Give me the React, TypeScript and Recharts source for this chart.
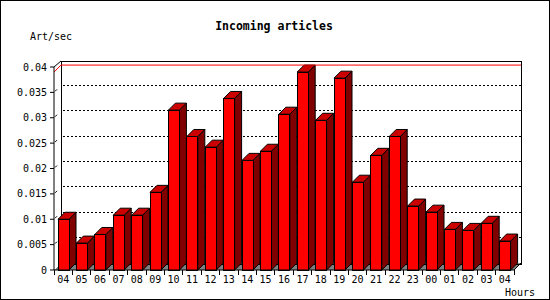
import React from 'react';
import { BarChart, Bar, XAxis, YAxis, CartesianGrid, ReferenceArea, ReferenceLine } from 'recharts';

const hours = ['04', '05', '06', '07', '08', '09', '10', '11', '12', '13', '14', '15', '16', '17', '18', '19', '20', '21', '22', '23', '00', '01', '02', '03', '04'];
const rates = [0.0100, 0.0053, 0.0070, 0.0108, 0.0108, 0.0153, 0.0315, 0.0263, 0.0242, 0.0338, 0.0216, 0.0234, 0.0307, 0.0390, 0.0295, 0.0378, 0.0173, 0.0226, 0.0263, 0.0126, 0.0114, 0.0080, 0.0078, 0.0092, 0.0057];
const yTicks = [0, 0.005, 0.01, 0.015, 0.02, 0.025, 0.03, 0.035, 0.04];

const data = hours.map((hour, i) => ({ key: i, hour, rate: rates[i] }));
const maxRate = Math.max(...rates);

const W = 550;
const H = 300;
const Y_AXIS_W = 54;
const RIGHT = 36;
const PLOT_W = W - Y_AXIS_W - RIGHT;
const HALF_BAND = PLOT_W / hours.length / 2;
const D = 7; // 3d depth
const FONT = 'DejaVu Sans Mono';

const BackPlane = (props: any) => {
  const { x, y, width, height } = props;
  const b = y + height;
  return (
    <g shapeRendering="crispEdges">
      <polygon points={`${x},${b} ${x + D},${b - D} ${x + width + D},${b - D} ${x + width},${b}`} fill="#808080" />
      <rect x={x + D} y={y - D + 1} width={width} height={height} fill="none" stroke="#000" />
      <line x1={x} y1={y} x2={x + D} y2={y - D + 1} stroke="#000" shapeRendering="auto" />
      <line x1={x + width} y1={b} x2={x + width + D} y2={b - D} stroke="#000" shapeRendering="auto" />
    </g>
  );
};

const GridLine = (props: any) => {
  const { x1, x2, y1, index } = props;
  if (y1 == null || index === 0 || index === yTicks.length - 1) return <g key={`g${index}`} />;
  return (
    <g key={`g${index}`}>
      <line x1={x1 + 1} y1={y1 - 1} x2={x1 + 3} y2={y1 - 3} stroke="#000" />
      <line x1={x1 + D + 2} y1={y1 - D} x2={x2 + D} y2={y1 - D} stroke="#000" strokeDasharray="2 2" shapeRendering="crispEdges" />
    </g>
  );
};

const MaxLine = (props: any) => {
  const { x1, x2, y1 } = props;
  return (
    <polyline points={`${x1},${y1} ${x1 + D},${y1 - D} ${x2 + D},${y1 - D}`} fill="none" stroke="#ff0000" />
  );
};

const Bar3D = (props: any) => {
  const { x, y, width, height } = props;
  const r = x + width;
  const b = y + height;
  return (
    <g stroke="#000" strokeWidth={1}>
      <polygon points={`${r},${y} ${r + D},${y - D} ${r + D},${b - D} ${r},${b}`} fill="#800000" />
      <polygon points={`${x},${y} ${x + D},${y - D} ${r + D},${y - D} ${r},${y}`} fill="#cc0000" />
      <rect x={x} y={y} width={width} height={height} fill="#ff0000" shapeRendering="crispEdges" />
    </g>
  );
};

const HourTick = (props: any) => {
  const { x, y, payload, index } = props;
  return (
    <g>
      <line x1={x - HALF_BAND} y1={y} x2={x - HALF_BAND} y2={y + 5} stroke="#000" shapeRendering="crispEdges" />
      {index === hours.length - 1 && (
        <line x1={x + HALF_BAND} y1={y} x2={x + HALF_BAND} y2={y + 5} stroke="#000" shapeRendering="crispEdges" />
      )}
      <text x={x} y={y + 13} textAnchor="middle" fontFamily={FONT} fontSize={10} fill="#000">
        {hours[payload.index ?? index] ?? payload.value}
      </text>
    </g>
  );
};

export default function App() {
  return (
    <div style={{ position: 'absolute', left: 0, top: 0, width: W, height: H, background: '#fff' }}>
      <BarChart
        width={W}
        height={H}
        data={data}
        margin={{ top: 67, right: RIGHT, bottom: 0, left: 0 }}
        barSize={11}
      >
        <ReferenceArea y1={0} y2={0.04} shape={BackPlane} />
        <CartesianGrid vertical={false} horizontal={GridLine} />
        <ReferenceLine y={maxRate} shape={MaxLine} />
        <XAxis
          dataKey="key"
          type="category"
          height={30}
          interval={0}
          tickLine={false}
          tickSize={0}
          tickMargin={0}
          axisLine={{ stroke: '#000' }}
          tick={HourTick}
        />
        <YAxis
          type="number"
          domain={[0, 0.04]}
          ticks={yTicks}
          width={Y_AXIS_W}
          tickSize={4}
          tickMargin={3}
          axisLine={{ stroke: '#000' }}
          tickLine={{ stroke: '#000' }}
          tick={{ fill: '#000', fontFamily: FONT, fontSize: 10 }}
          tickFormatter={(v: number) => String(v)}
        />
        <Bar dataKey="rate" shape={Bar3D} isAnimationActive={false} />
      </BarChart>
      <svg width={W} height={H} style={{ position: 'absolute', left: 0, top: 0, pointerEvents: 'none' }}>
        <rect x={0.5} y={0.5} width={W - 1} height={H - 1} fill="none" stroke="#000" />
        <text x={274} y={30} textAnchor="middle" fontFamily={FONT} fontWeight="bold" fontSize={11.5} fill="#000">
          Incoming articles
        </text>
        <text x={30} y={40} fontFamily={FONT} fontSize={10} fill="#000">Art/sec</text>
        <text x={505} y={296} fontFamily={FONT} fontSize={10} fill="#000">Hours</text>
      </svg>
    </div>
  );
}
